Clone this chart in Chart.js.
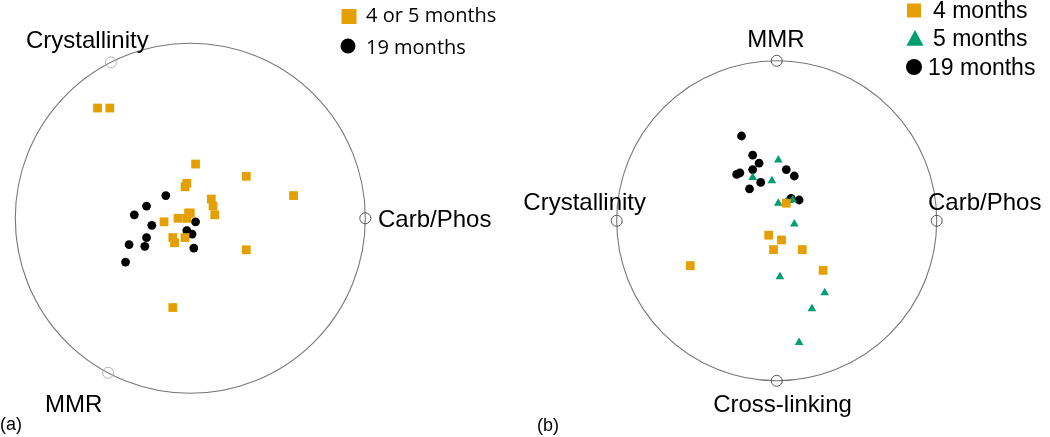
<!DOCTYPE html>
<html>
<head>
<meta charset="utf-8">
<script src="https://cdn.jsdelivr.net/npm/chart.js@4.4.1/dist/chart.umd.min.js"></script>
<style>
  html, body { margin: 0; padding: 0; background: #fff; }
  #wrap { position: relative; width: 1050px; height: 437px; overflow: hidden; }
  canvas { position: absolute; top: 0; }
  #chartA { left: 0; }
  #chartB { left: 520px; }
</style>
</head>
<body>
<div id="wrap">
  <canvas id="chartA" width="520" height="437"></canvas>
  <canvas id="chartB" width="530" height="437"></canvas>
</div>
<script>
// RadViz positions, unit circle = anchor ring
// panel (a)
const anchorsA = ['Crystallinity', 'Carb/Phos', 'MMR'];
const anglesA = [117, 0, 242];
const months4or5A = [
  [-0.53, 0.63], [-0.46, 0.63], [0.03, 0.31], [0.32, 0.24], [-0.02, 0.20],
  [-0.03, 0.18], [0.59, 0.13], [0.12, 0.11], [0.13, 0.07], [0.14, 0.02],
  [-0.15, -0.02], [-0.07, 0.00], [-0.02, 0.00], [-0.01, 0.03], [0.00, 0.03],
  [-0.10, -0.11], [-0.09, -0.14], [-0.03, -0.11], [0.32, -0.18], [-0.10, -0.51]
];
const months19A = [
  [-0.14, 0.13], [-0.25, 0.07], [-0.32, 0.02], [-0.22, -0.04], [0.03, -0.02],
  [-0.02, -0.07], [0.01, -0.09], [-0.25, -0.11], [-0.35, -0.15], [-0.26, -0.16],
  [0.02, -0.17], [-0.37, -0.25]
];

// panel (b)
const anchorsB = ['MMR', 'Crystallinity', 'Carb/Phos', 'Cross-linking'];
const anglesB = [90, 180, 0, 270];
const months4B = [
  [0.06, 0.11], [-0.05, -0.09], [0.03, -0.12], [-0.02, -0.18], [0.16, -0.18],
  [0.29, -0.31], [-0.54, -0.28]
];
const months5B = [
  [0.01, 0.38], [-0.15, 0.27], [-0.03, 0.25], [0.01, 0.11], [0.06, 0.12],
  [0.10, 0.13], [0.11, -0.02], [0.02, -0.35], [0.30, -0.45], [0.22, -0.55],
  [0.14, -0.76]
];
const months19B = [
  [-0.22, 0.53], [-0.15, 0.41], [-0.11, 0.36], [-0.15, 0.32], [-0.23, 0.30],
  [-0.25, 0.29], [-0.10, 0.24], [-0.17, 0.20], [0.06, 0.32], [0.11, 0.28],
  [0.09, 0.14], [0.14, 0.13]
];

const ORANGE = '#E69F00';
const GREEN = '#009E73';
const LABEL_FONT = "24px 'Liberation Sans', Arial, sans-serif";

function pts(arr) {
  return arr.map(p => ({ x: p[0], y: p[1] }));
}
function anchorPts(angles) {
  return angles.map(a => ({ x: Math.cos(a * Math.PI / 180), y: Math.sin(a * Math.PI / 180) }));
}

function drawSymbol(ctx, style, x, y, size, color) {
  ctx.fillStyle = color;
  ctx.beginPath();
  if (style === 'rect') {
    ctx.rect(x - size, y - size, size * 2, size * 2);
  } else if (style === 'triangle') {
    ctx.moveTo(x, y - size);
    ctx.lineTo(x + size * 0.95, y + size * 0.75);
    ctx.lineTo(x - size * 0.95, y + size * 0.75);
    ctx.closePath();
  } else {
    ctx.arc(x, y, size, 0, Math.PI * 2);
  }
  ctx.fill();
}

const ringPlugin = {
  id: 'ring',
  beforeDatasetsDraw(chart, args, opts) {
    const { ctx, scales: { x, y } } = chart;
    const cx = x.getPixelForValue(0), cy = y.getPixelForValue(0);
    const r = x.getPixelForValue(1) - cx;
    ctx.save();
    ctx.strokeStyle = '#777';
    ctx.lineWidth = 1.1;
    ctx.beginPath();
    ctx.arc(cx, cy, r, 0, Math.PI * 2);
    ctx.stroke();
    ctx.restore();
  },
  afterDraw(chart, args, opts) {
    const ctx = chart.ctx;
    ctx.save();
    ctx.textBaseline = 'alphabetic';
    opts.labels.forEach(l => {
      ctx.fillStyle = '#000';
      ctx.font = l.font || LABEL_FONT;
      ctx.textAlign = l.align || 'left';
      ctx.fillText(l.text, l.x, l.y);
    });
    opts.legend.forEach(item => {
      const ds = chart.data.datasets[item.ds];
      drawSymbol(ctx, ds.pointStyle, item.x, item.y, item.size, ds.backgroundColor);
      ctx.fillStyle = '#000';
      ctx.font = opts.legendFont;
      ctx.textAlign = 'left';
      ctx.fillText(ds.label, item.tx, item.ty);
    });
    ctx.restore();
  }
};

const hiddenScales = {
  x: { type: 'linear', min: -1, max: 1, display: false },
  y: { type: 'linear', min: -1, max: 1, display: false }
};

// panel (a)
new Chart(document.getElementById('chartA'), {
  type: 'scatter',
  data: {
    datasets: [
      { label: '4 or 5 months', data: pts(months4or5A), pointStyle: 'rect', pointRadius: 6.2,
        backgroundColor: ORANGE, borderWidth: 0, clip: false },
      { label: '19 months', data: pts(months19A), pointStyle: 'circle', pointRadius: 4.4,
        backgroundColor: '#000', borderWidth: 0, clip: false },
      { label: 'anchors', data: anchorPts(anglesA), pointStyle: 'circle', pointRadius: 5.5,
        backgroundColor: 'rgba(0,0,0,0)', borderColor: ['#b4b4b4', '#555', '#b4b4b4'],
        borderWidth: 1, clip: false }
    ]
  },
  options: {
    responsive: false,
    animation: false,
    events: [],
    layout: { padding: { left: 15.3, right: 154.7, top: 43.3, bottom: 43.7 } },
    scales: hiddenScales,
    plugins: {
      legend: { display: false },
      tooltip: { enabled: false },
      ring: {
        labels: [
          { text: anchorsA[0], x: 26, y: 48 },
          { text: anchorsA[1], x: 378, y: 227 },
          { text: anchorsA[2], x: 45, y: 412 },
          { text: '(a)', x: 0, y: 430, font: "18px 'Liberation Sans', Arial, sans-serif" }
        ],
        legendFont: "20px 'Open Sans', sans-serif",
        legend: [
          { ds: 0, x: 349, y: 16.5, size: 7.5, tx: 366, ty: 22 },
          { ds: 1, x: 348, y: 46, size: 7.5, tx: 366, ty: 54 }
        ]
      }
    }
  },
  plugins: [ringPlugin]
});

// panel (b)
new Chart(document.getElementById('chartB'), {
  type: 'scatter',
  data: {
    datasets: [
      { label: '4 months', data: pts(months4B), pointStyle: 'rect', pointRadius: 6.2,
        backgroundColor: ORANGE, borderWidth: 0, clip: false },
      { label: '5 months', data: pts(months5B), pointStyle: 'triangle', pointRadius: 5,
        backgroundColor: GREEN, borderWidth: 0, clip: false },
      { label: '19 months', data: pts(months19B), pointStyle: 'circle', pointRadius: 4.4,
        backgroundColor: '#000', borderWidth: 0, clip: false },
      { label: 'anchors', data: anchorPts(anglesB), pointStyle: 'circle', pointRadius: 5.5,
        backgroundColor: 'rgba(0,0,0,0)', borderColor: '#555', borderWidth: 1, clip: false }
    ]
  },
  options: {
    responsive: false,
    animation: false,
    events: [],
    layout: { padding: { left: 96.7, right: 113.3, top: 60.8, bottom: 56.2 } },
    scales: hiddenScales,
    plugins: {
      legend: { display: false },
      tooltip: { enabled: false },
      ring: {
        labels: [
          { text: anchorsB[0], x: 256, y: 47, align: 'center' },
          { text: anchorsB[1], x: 126, y: 210, align: 'right' },
          { text: anchorsB[2], x: 408, y: 210 },
          { text: anchorsB[3], x: 262.5, y: 412, align: 'center' },
          { text: '(b)', x: 17, y: 431, font: "18px 'Liberation Sans', Arial, sans-serif" }
        ],
        legendFont: "23px 'Liberation Sans', Arial, sans-serif",
        legend: [
          { ds: 0, x: 394, y: 10.5, size: 7, tx: 413, ty: 18 },
          { ds: 1, x: 395, y: 39, size: 9, tx: 413, ty: 46 },
          { ds: 2, x: 394, y: 67, size: 8, tx: 408, ty: 75 }
        ]
      }
    }
  },
  plugins: [ringPlugin]
});
</script>
</body>
</html>
